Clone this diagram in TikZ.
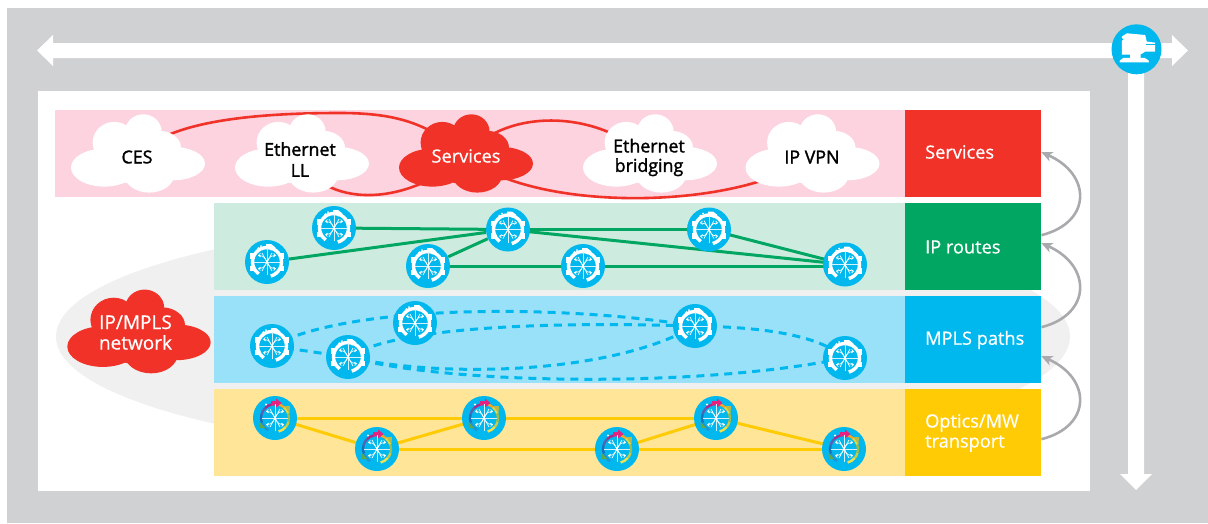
\documentclass[tikz,border=0pt]{standalone}
\usepackage{fontspec}
\setmainfont{Open Sans}
\newfontfamily\darkface{Open Sans}[FakeBold=1.6]
\newfontfamily\lightface{Open Sans}[FakeBold=0.7]
\usetikzlibrary{arrows.meta,calc}
\definecolor{outergray}{HTML}{D0D1D3}
\definecolor{ellgray}{HTML}{F0F0F0}
\definecolor{nred}{HTML}{F13228}
\definecolor{npink}{HTML}{FCD3DF}
\definecolor{ngreen}{HTML}{00A661}
\definecolor{lgreen}{HTML}{CDECDF}
\definecolor{nblue}{HTML}{00B8EE}
\definecolor{lblue}{HTML}{98E1F9}
\definecolor{nyellow}{HTML}{FFCB05}
\definecolor{lyellow}{HTML}{FEE598}
\definecolor{arcgray}{HTML}{A9AAAD}
\definecolor{crossc}{HTML}{D5F3FC}
\definecolor{oliveseg}{HTML}{B9B84A}
\definecolor{greenseg}{HTML}{5FA84A}
\definecolor{magseg}{HTML}{E6217F}
\pgfdeclarelayer{back}
\pgfdeclarelayer{lines}
\pgfsetlayers{back,lines,main}
\newcommand{\cloudfill}[3]{%
  \fill[#3,shift={(#1)},scale=#2]
    (-33.7,14.1) ellipse [x radius=33.3,y radius=19]
    (34.7,10.1) ellipse [x radius=32.3,y radius=16.7]
    (11.3,20.8) ellipse [x radius=25,y radius=18.3]
    (5.3,-21.9) ellipse [x radius=18.3,y radius=17.3]
    (-23.7,-10.9) ellipse [x radius=21.7,y radius=20.7]
    (21.3,-5.9) ellipse [x radius=21.7,y radius=16.7]
    (-0.3,4.1) ellipse [x radius=36.7,y radius=26.7];}
\tikzset{
  band/.style={rectangle,draw=none,inner sep=0,anchor=north west,minimum height=87pt},
  sidebox/.style={rectangle,draw=none,inner sep=0,anchor=north west,minimum width=136pt,minimum height=87pt},
  sidelabel/.style={text=white,anchor=west,align=left,inner sep=0,font=\lightface\fontsize{18.2}{20}\selectfont},
  cloudtext/.style={text=black,align=center,inner sep=0,font=\darkface\fontsize{17.8}{21}\selectfont},
  cloudtextw/.style={text=white,align=center,inner sep=0,font=\lightface\fontsize{18.2}{21}\selectfont},
  rdisc/.style={circle,fill=nblue,draw=none,inner sep=0,minimum size=44pt},
  svcline/.style={draw=nred,line width=2.6pt},
  ipline/.style={draw=ngreen,line width=3pt},
  mplsline/.style={draw=nblue,line width=3pt,dash pattern=on 8pt off 6pt},
  optline/.style={draw=nyellow,line width=3pt},
  looparc/.style={draw=arcgray,line width=2.6pt,-{Stealth[length=11pt,width=10pt,inset=3pt]}},
  spokes/.pic={
    \draw[crossc,line width=.8pt] (-13,0) -- (13,0) (0,-14) -- (0,13);
    \foreach \sx/\sy in {1/1,1/-1,-1/1,-1/-1}{
      \draw[white,line width=.7pt,-{Straight Barb[length=2pt,width=3.5pt]}] (0,0) .. controls (\sx*3,\sy*6) and (\sx*5,\sy*7) .. (\sx*9,\sy*6.5);
      \draw[white,line width=.7pt] (0,0) -- (\sx*5,\sy*9);
    }
  },
  routerglyph/.pic={
    \draw[white,line width=3.4pt] (75:14.5) arc [start angle=75,end angle=-235,radius=14.5];
    \foreach \sx in {1,-1}{
      \fill[white] (\sx*12.5,-9) rectangle (\sx*17,-3.5);
      \fill[white] (\sx*12.5,3.5) rectangle (\sx*17,9);
    }
    \fill[white] (-1,-18) -- (4,-18) -- (8.5,-14.5) -- (4,-11.5) -- (3,-13) -- (-1,-13) -- cycle;
    \fill[white] (-8.5,-13.5) circle (1.3) (-6,-16) circle (1);
    \pic {spokes};
  },
  opticglyph/.pic={
    \foreach \a/\b/\c in {75/40/F2E14B,40/15/C9CB45,15/-20/9DBB46,-20/-50/E6D73E,-50/-75/F5A623,-75/-105/E6217F,-105/-135/A32C8E,-135/-165/5A5FB0,-165/-200/1F6FB8,-200/-240/1F93D6}{
      \definecolor{segc}{HTML}{\c}
      \draw[segc,line width=2.4pt] (\a:14) arc [start angle=\a,end angle=\b,radius=14];
    }
    \fill[oliveseg] (9,-12) -- (15,-12) -- (14.5,-5) -- cycle;
    \fill[greenseg] (-15.5,4) -- (-15,10) -- (-9.5,10) -- cycle;
    \fill[magseg] (-4,-17) -- (1,-17) -- (1,-19.5) -- (6.5,-15) -- (1,-10.5) -- (1,-13) -- (-4,-13) -- cycle;
    \fill[white] (-9,-13.5) circle (1.2);
    \pic {spokes};
  }
}
\begin{document}
\begin{tikzpicture}[x=1pt,y=-1pt]
\useasboundingbox (0,0) rectangle (1208,523);
\begin{pgfonlayer}{back}
% frame
\fill[outergray] (7,8) rectangle (1208,523);
\fill[white] (38,91) rectangle (1090,491);
% grey ellipse
\fill[ellgray] (563,336.5) ellipse [x radius=507,y radius=120];
\node[band,fill=npink,minimum width=850pt] (bandsvc) at (55,110) {};
\node[band,fill=lgreen,minimum width=691pt] (bandip) at (214,203) {};
\node[band,fill=lblue,minimum width=691pt] (bandmpls) at (214,296) {};
\node[band,fill=lyellow,minimum width=691pt] (bandopt) at (214,389) {};
\end{pgfonlayer}
% side boxes
\node[sidebox,fill=nred] (bsvc) at (905,110) {};
\node[sidebox,fill=ngreen] (bip) at (905,203) {};
\node[sidebox,fill=nblue] (bmpls) at (905,296) {};
\node[sidebox,fill=nyellow] (bopt) at (905,389) {};
\node[sidelabel] (lsvc) at (925,152) {Services};
\node[sidelabel] (lip) at (925,247) {IP routes};
\node[sidelabel] (lmpls) at (925,340) {MPLS paths};
\node[sidelabel] (lopt) at (925,433) {Optics/MW\\transport};
% big arrows
\fill[white] (37,50.5) -- (53,35) -- (53,43) -- (1172,43) -- (1172,35) -- (1188,50.5) -- (1172,66) -- (1172,58) -- (53,58) -- (53,66) -- cycle;
\fill[white] (1128,60) -- (1144,60) -- (1144,474) -- (1152,474) -- (1136,490) -- (1120,474) -- (1128,474) -- cycle;
% top-right icon
\node[circle,fill=nblue,draw=none,inner sep=0,minimum size=50pt] (cp) at (1136.5,49.3) {};
\begin{scope}[shift={(cp.center)}]
\fill[white] (-14.7,-12.7) -- (-9.7,-16) -- (8.7,-14.3) -- (10.3,-7.7) -- (18.7,-6.7) -- (18.7,2.3) -- (8.7,2.3) -- (4,5.3) -- (4,8.5) -- (8,8.5) -- (12,11) -- (12.5,13) -- (-17,13) -- (-16.5,11) -- (-13,8.5) -- (-6.3,8.5) -- (-6.3,5.3) -- (-14.7,5.3) -- cycle;
\fill[nblue] (-14.7,-10) circle (1.4);
\draw[nblue,line width=.8pt] (9.5,-5) -- (19,-5);
\end{scope}
% clouds
\coordinate (cces) at (138,153.5);
\coordinate (cell) at (302,153.5);
\coordinate (csvc) at (466,153.5);
\coordinate (cbr) at (650,153.5);
\coordinate (cvpn) at (812.5,153.5);
\coordinate (cmpls) at (139,331.5);
\cloudfill{cces}{1}{white}
\cloudfill{cell}{1}{white}
\cloudfill{csvc}{1}{nred}
\cloudfill{cbr}{1}{white}
\cloudfill{cvpn}{1}{white}
\cloudfill{cmpls}{1.07}{nred}
\node[cloudtext] (tces) at (137,157) {CES};
\node[cloudtext] (tell) at (300,159.5) {Ethernet\\LL};
\node[cloudtextw] (tsvc) at (466,156) {Services};
\node[cloudtext,font=\darkface\fontsize{17.8}{19.5}\selectfont] (tbr) at (649,157.5) {Ethernet\\bridging};
\node[cloudtext] (tvpn) at (812,157) {IP VPN};
\node[cloudtextw,font=\lightface\fontsize{19}{20.5}\selectfont] (tmpls) at (135.5,332.5) {IP/MPLS\\network};
\coordinate (wayces) at (340,113);
\begin{pgfonlayer}{lines}
\draw[svcline] (tces.center) .. controls (165,120) and (260,113) .. (wayces) .. controls (400,113) and (430,125) .. (tsvc.center);
\draw[svcline] (tell.center) .. controls (325,205) and (400,210) .. (tsvc.center);
\draw[svcline] (tsvc.center) .. controls (500,112) and (590,105) .. (tbr.center);
\draw[svcline] (tsvc.center) .. controls (530,212) and (735,212) .. (tvpn.center);
\end{pgfonlayer}
% IP routers
\foreach \n/\p in {g1/{334,228},g2/{267,262},g3/{428,266},g4/{508,229.5},g5/{583,266},g6/{709,229.5},g7/{845,264.5}}{
  \node[rdisc] (\n) at (\p) {};
  \pic at (\n) {routerglyph};
}
\begin{pgfonlayer}{lines}
\draw[ipline] (g1) -- (g4);
\draw[ipline] (g2) -- (g4);
\draw[ipline] (g3) -- (g4);
\draw[ipline] (g3) -- (g5);
\draw[ipline] (g5.center) -- (845,266);
\draw[ipline] (g4) -- (g6);
\draw[ipline] (g4.center) -- (g7.center);
\draw[ipline] (g6.center) -- (g7.center);
\end{pgfonlayer}
% MPLS routers
\foreach \n/\p in {m1/{272,346},m2/{348,357},m3/{415,323},m4/{695,326},m5/{845,358}}{
  \node[rdisc] (\n) at (\p) {};
  \pic at (\n) {routerglyph};
}
\begin{pgfonlayer}{lines}
\draw[mplsline] (m1.center) .. controls (350,304) and (560,304) .. (m4.center);
\draw[mplsline] (m2.center) .. controls (400,325) and (560,322) .. (m4.center);
\draw[mplsline] (m1.center) -- (m2.center);
\draw[mplsline] (m2.center) .. controls (440,378) and (610,375) .. (m4.center);
\draw[mplsline] (m2.center) .. controls (450,385) and (700,388) .. (m5.center);
\draw[mplsline] (m4.center) .. controls (750,327) and (815,332) .. (m5.center);
\end{pgfonlayer}
% optical nodes
\foreach \n/\p in {o1/{275,418},o2/{377,449},o3/{484,418},o4/{617,449},o5/{716,418},o6/{844,449}}{
  \node[rdisc] (\n) at (\p) {};
  \pic at (\n) {opticglyph};
}
\begin{pgfonlayer}{lines}
\draw[optline] (o1.center) -- (o3.center);
\draw[optline] (o1.center) -- (o2.center);
\draw[optline] (o2.center) -- (o3.center);
\draw[optline] (o3.center) -- (o5.center);
\draw[optline] (o2.center) -- (o6.center);
\draw[optline] (o4.center) -- (o5.center);
\draw[optline] (o5.center) -- (o6.center);
\end{pgfonlayer}
% loop arcs
\draw[looparc] ([yshift=11.5pt]bip.east) .. controls +(51,-13) and +(50,22) .. ([yshift=1.5pt]bsvc.east);
\draw[looparc] ([yshift=12.5pt]bmpls.east) .. controls +(51,-13) and +(50,22) .. ([yshift=3.5pt]bip.east);
\draw[looparc] ([yshift=-6.5pt]bopt.east) .. controls +(51,-13) and +(50,22) .. ([yshift=-16.5pt]bmpls.east);
\end{tikzpicture}
\end{document}
